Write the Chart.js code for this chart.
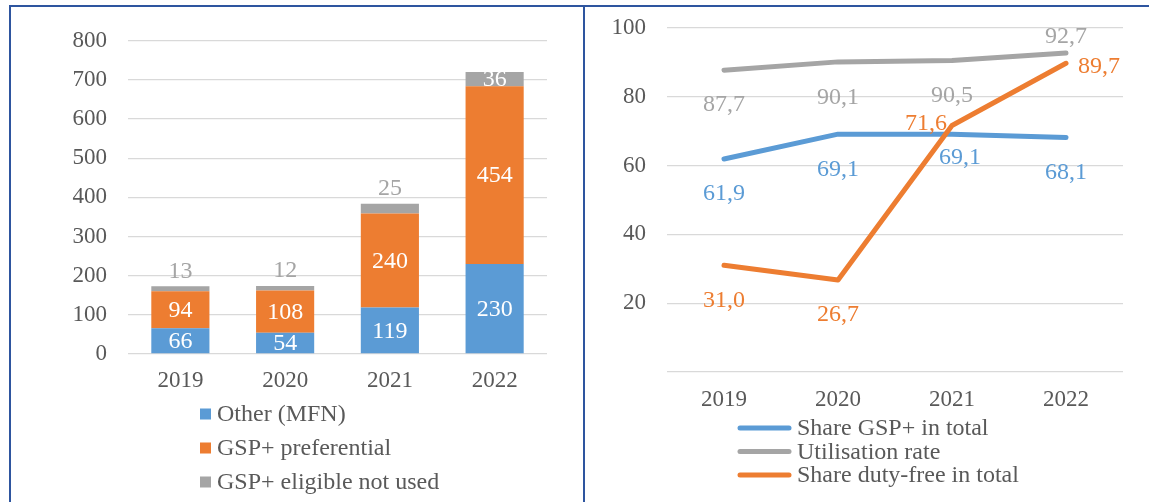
<!DOCTYPE html>
<html>
<head>
<meta charset="utf-8">
<script src="https://cdn.jsdelivr.net/npm/chart.js@4.4.1/dist/chart.umd.min.js"></script>
<style>
  html, body { margin: 0; background: #fff; }
  body { width: 1149px; height: 502px; position: relative; overflow: hidden;
         font-family: "Liberation Serif", serif; }
  .frame { position: absolute; left: 9px; top: 5px; width: 1160px; height: 520px;
           border-top: 2px solid #2E559F; border-left: 2px solid #2E559F; }
  .divider { position: absolute; left: 583px; top: 5px; width: 2px; height: 497px; background: #2E559F; }
  .warm { position: absolute; left: -500px; top: -100px; font-size: 22px; }
  #imports { position: absolute; left: 11px; top: 6px; }
  #shares { position: absolute; left: 585px; top: -7px; }
</style>
</head>
<body>
<span class="warm">0123456789 Share GSP+</span>
<canvas id="imports" width="572" height="496"></canvas>
<canvas id="shares" width="564" height="509"></canvas>
<div class="frame"></div>
<div class="divider"></div>
<script>
// categories
const years = ["2019", "2020", "2021", "2022"];

// left panel: imports by regime
const otherMfn = [66, 54, 119, 230];
const gspPreferential = [94, 108, 240, 454];
const gspNotUsed = [13, 12, 25, 36];
const importTicks = [0, 100, 200, 300, 400, 500, 600, 700, 800];

// right panel: shares in %
const shareGsp = [61.9, 69.1, 69.1, 68.1];
const utilisationRate = [87.7, 90.1, 90.5, 92.7];
const shareDutyFree = [31.0, 26.7, 71.6, 89.7];
const shareTicks = [0, 20, 40, 60, 80, 100];

const BLUE = "#5B9BD5", ORANGE = "#ED7D31", GREY = "#A5A5A5";
const TEXT = "#595959", GRID = "#D9D9D9";
const SERIF = "'Liberation Serif', 'Times New Roman', Tinos, serif";
const LABEL_FONT = "24px " + SERIF;

// value labels drawn next to bars / line points
const valueLabels = {
  id: "valueLabels",
  afterDatasetsDraw(chart, args, opts) {
    const ctx = chart.ctx;
    ctx.save();
    ctx.font = LABEL_FONT;
    ctx.textAlign = "center";
    ctx.textBaseline = "middle";
    chart.data.datasets.forEach((ds, i) => {
      const meta = chart.getDatasetMeta(i);
      meta.data.forEach((el, j) => {
        const v = ds.data[j];
        const text = opts.decimals ? v.toFixed(1).replace(".", ",") : String(v);
        let x = el.x, y;
        if (meta.type === "bar") {
          const top = ds.labelTop && ds.labelTop[j];
          y = top ? el.y - 16 : (el.y + el.base) / 2;
          ctx.fillStyle = top ? ds.backgroundColor : "#FFFFFF";
        } else {
          const [dx, dy] = ds.labelShift[j];
          x += dx; y = el.y + dy;
          ctx.fillStyle = ds.borderColor;
        }
        ctx.fillText(text, x, y + 1);
      });
    });
    ctx.restore();
  }
};

// legend stacked under the x axis
const stackedLegend = {
  id: "stackedLegend",
  afterDraw(chart, args, opts) {
    const ctx = chart.ctx;
    ctx.save();
    ctx.font = LABEL_FONT;
    ctx.textBaseline = "middle";
    chart.data.datasets.forEach((ds, i) => {
      const y = opts.top + i * opts.step;
      if (opts.kind === "box") {
        ctx.fillStyle = ds.backgroundColor;
        ctx.fillRect(opts.x, y - 5.5, 11, 11);
      } else {
        ctx.strokeStyle = ds.borderColor;
        ctx.lineWidth = 5;
        ctx.lineCap = "round";
        ctx.beginPath();
        ctx.moveTo(opts.x + 2, y);
        ctx.lineTo(opts.x + 51, y);
        ctx.stroke();
      }
      ctx.fillStyle = TEXT;
      ctx.fillText(ds.label, opts.textX, y + 1);
    });
    ctx.restore();
  }
};

function drawCharts() {
  Chart.defaults.font.family = SERIF;
  Chart.defaults.font.size = 23;
  Chart.defaults.color = TEXT;

  // the y tick padding already pushes the plot top down to ~35px,
  // so the canvases are shifted instead of padding the layout
  new Chart(document.getElementById("imports"), {
    type: "bar",
    data: {
      labels: years,
      datasets: [
        { label: "Other (MFN)", data: otherMfn, backgroundColor: BLUE },
        { label: "GSP+ preferential", data: gspPreferential, backgroundColor: ORANGE },
        { label: "GSP+ eligible not used", data: gspNotUsed, backgroundColor: GREY,
          labelTop: [true, true, true, false] }
      ]
    },
    options: {
      responsive: false,
      animation: false,
      categoryPercentage: 1,
      barPercentage: 0.555,
      layout: { padding: { left: 0, right: 36, top: 0, bottom: 0 } },
      plugins: {
        legend: { display: false },
        tooltip: { enabled: false },
        valueLabels: { decimals: false },
        stackedLegend: { kind: "box", x: 189, textX: 206, top: 408, step: 34 }
      },
      scales: {
        x: {
          stacked: true,
          grid: { display: false, drawTicks: false },
          border: { display: false },
          ticks: { padding: 13, color: TEXT },
          afterFit(s) { s.height = 148; }
        },
        y: {
          stacked: true,
          min: 0, max: 800,
          afterBuildTicks(s) { s.ticks = importTicks.map(v => ({ value: v })); },
          grid: { color: GRID, lineWidth: 1.3, drawTicks: false },
          border: { display: false },
          ticks: { padding: 21, color: TEXT },
          afterFit(s) { s.width = 117; }
        }
      }
    },
    plugins: [valueLabels, stackedLegend]
  });

  const lineStyle = { borderWidth: 5, pointRadius: 0, tension: 0,
                      borderCapStyle: "round", borderJoinStyle: "round", fill: false };

  new Chart(document.getElementById("shares"), {
    type: "line",
    data: {
      labels: years,
      datasets: [
        { label: "Share GSP+ in total", data: shareGsp, borderColor: BLUE, order: 3,
          labelShift: [[0, 34], [0, 35], [8, 23], [0, 34]], ...lineStyle },
        { label: "Utilisation rate", data: utilisationRate, borderColor: GREY, order: 2,
          labelShift: [[0, 34], [0, 35], [0, 34], [0, -17]], ...lineStyle },
        { label: "Share duty-free in total", data: shareDutyFree, borderColor: ORANGE, order: 1,
          labelShift: [[0, 34], [0, 34], [-26, -3], [33, 2]], ...lineStyle }
      ]
    },
    options: {
      responsive: false,
      animation: false,
      layout: { padding: { left: 0, right: 26, top: 0, bottom: 0 } },
      plugins: {
        legend: { display: false },
        tooltip: { enabled: false },
        valueLabels: { decimals: true },
        stackedLegend: { kind: "line", x: 153, textX: 212, top: 435, step: 23.5 }
      },
      scales: {
        x: {
          offset: true,
          grid: { display: false, drawTicks: false },
          border: { display: false },
          ticks: { padding: 14, color: TEXT },
          afterFit(s) { s.height = 130; }
        },
        y: {
          min: 0, max: 100,
          afterBuildTicks(s) { s.ticks = shareTicks.map(v => ({ value: v })); },
          grid: { color: GRID, lineWidth: 1.3, drawTicks: false },
          border: { display: false },
          ticks: { padding: 21, color: TEXT, callback: v => (v === 0 ? "" : v) },
          afterFit(s) { s.width = 82; }
        }
      }
    },
    plugins: [valueLabels, stackedLegend]
  });
}

document.fonts.load("22px 'Liberation Serif'").then(drawCharts, drawCharts);
</script>
</body>
</html>
